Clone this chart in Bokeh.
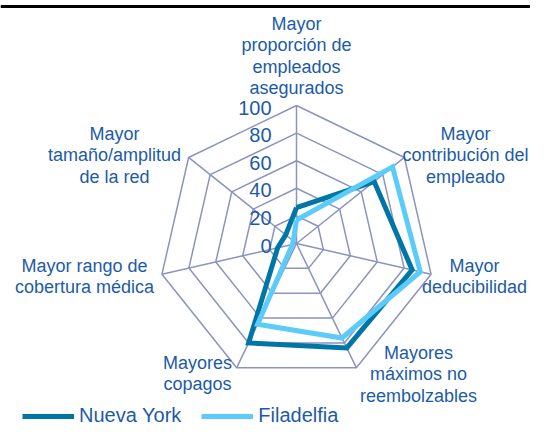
import numpy as np
from bokeh.plotting import figure
from bokeh.models import Range1d, Legend, LegendItem
from bokeh.core.properties import value
from bokeh.embed import file_html
from bokeh.resources import INLINE

# ---- data ----
categories = [
    "Mayor\nproporción de\nempleados\nasegurados",
    "Mayor\ncontribución del\nempleado",
    "Mayor\ndeducibilidad",
    "Mayores\nmáximos no\nreembolzables",
    "Mayores\ncopagos",
    "Mayor rango de\ncobertura médica",
    "Mayor\ntamaño/amplitud\nde la red",
]
nueva_york = [26, 72, 86, 84, 80, 14, 10]
filadelfia = [17, 89, 92, 76, 65, 3, 3]
series_names = ["Nueva York", "Filadelfia"]
ticks = [0, 20, 40, 60, 80, 100]
tick_labels = ["0", "20", "40", "60", "80", "100"]

# ---- layout / style ----
CX, CY, R = 296, 243, 138
label_anchor = [(296, 23), (465, 133), (474, 265), (418, 352), (197, 362), (84, 265), (114, 133)]
LINE_H = 21.5
TXT = "#1C5BA9"
GRID = "#8B93BF"
C_NY = "#0076A6"
C_FI = "#5BCBFA"
FONT = value("Liberation Sans")

p = figure(width=530, height=427, x_range=Range1d(0, 530), y_range=Range1d(427, 0),
           output_backend="svg", toolbar_location=None, min_border=0)
p.axis.visible = False
p.grid.visible = False
p.outline_line_color = None

n = len(categories)
ang = np.arange(n) * 2 * np.pi / n


def polar(vals):
    r = np.asarray(vals, dtype=float) / 100.0 * R
    xs = CX + r * np.sin(ang)
    ys = CY - r * np.cos(ang)
    return list(xs) + [xs[0]], list(ys) + [ys[0]]


# rings
ring_x, ring_y = [], []
for t in ticks[1:]:
    xs, ys = polar([t] * n)
    ring_x.append(xs)
    ring_y.append(ys)
p.multi_line(ring_x, ring_y, line_color=GRID, line_width=1.5)

# spokes
ox, oy = polar([100] * n)
p.segment(x0=[CX] * n, y0=[CY] * n, x1=ox[:-1], y1=oy[:-1], line_color=GRID, line_width=1.5)

# tick labels
p.text(x=[271] * len(ticks), y=[CY - t / 100.0 * R + 2 for t in ticks], text=tick_labels,
       text_align="right", text_baseline="middle", text_font=FONT,
       text_font_size="20px", text_color=TXT)

# series
xs, ys = polar(nueva_york)
r_ny = p.line(xs, ys, line_color=C_NY, line_width=5, line_join="miter")
xs, ys = polar(filadelfia)
r_fi = p.line(xs, ys, line_color=C_FI, line_width=5, line_join="miter")

# category labels
lx, ly, lt = [], [], []
for cat, (ax, ay) in zip(categories, label_anchor):
    for i, line in enumerate(cat.split("\n")):
        lx.append(ax)
        ly.append(ay + i * LINE_H)
        lt.append(line)
p.text(x=lx, y=ly, text=lt, text_align="center", text_baseline="middle",
       text_font=FONT, text_font_size="18px", text_color=TXT)

# top rule
p.segment(x0=[0], y0=[6], x1=[530], y1=[6], line_color="black", line_width=3)

legend = Legend(items=[LegendItem(label=series_names[0], renderers=[r_ny]),
                       LegendItem(label=series_names[1], renderers=[r_fi])],
                orientation="horizontal", location=(22, 0), padding=0, margin=0,
                spacing=20, glyph_width=52, glyph_height=16, label_height=16,
                label_standoff=5, label_text_font_size="20px", label_text_color=TXT,
                label_text_font="Liberation Sans", background_fill_alpha=0,
                border_line_alpha=0)
p.add_layout(legend)

open("out.html", "w").write(file_html(p, INLINE))
